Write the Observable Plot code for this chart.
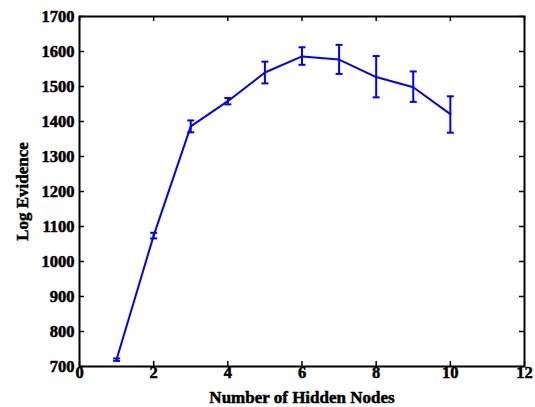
<!DOCTYPE html>
<html>
<head>
<meta charset="utf-8">
<script src="https://cdn.jsdelivr.net/npm/d3@7"></script>
<script src="https://cdn.jsdelivr.net/npm/@observablehq/plot@0.6"></script>
<style>
  html, body { margin: 0; padding: 0; background: #fff; }
  #chart svg { display: block; }
  #chart svg text { font-weight: bold; }
</style>
</head>
<body>
<div id="chart"></div>
<script>
const nodes    = [1, 2, 3, 4, 5, 6, 7, 8, 9, 10];
const evidence = [720, 1074, 1386, 1458, 1540, 1586, 1577, 1527, 1498, 1421];
const lower    = [716, 1066, 1369, 1449, 1509, 1562, 1536, 1469, 1456, 1368];
const upper    = [723, 1082, 1403, 1467, 1571, 1612, 1619, 1587, 1543, 1472];
const xTicks = [0, 2, 4, 6, 8, 10, 12];
const yTicks = [700, 800, 900, 1000, 1100, 1200, 1300, 1400, 1500, 1600, 1700];
const xLabel = "Number of Hidden Nodes";
const yLabel = "Log Evidence";

const data = nodes.map((n, i) => ({n, v: evidence[i], lo: lower[i], hi: upper[i]}));

const W = 535, H = 407, mL = 79, mR = 11, mT = 16, mB = 41;
const pw = W - mL - mR, ph = H - mT - mB;
const tk = 5;
const capSymbol = {
  draw(ctx, size) {
    const r = Math.sqrt(size / Math.PI);
    ctx.moveTo(-r, 0);
    ctx.lineTo(r, 0);
  }
};
const blue = "#0000ff";
const font = "'Liberation Serif', 'Times New Roman', serif";
const txt = {fontWeight: "bold", fill: "#000", stroke: "#000", strokeWidth: 0.5};

const chart = Plot.plot({
  width: W, height: H,
  marginLeft: mL, marginRight: mR, marginTop: mT, marginBottom: mB,
  style: {fontFamily: font, fontSize: "16px", fontWeight: "bold", color: "#000", background: "#fff"},
  x: {domain: [0, 12], axis: null},
  y: {domain: [700, 1700], axis: null},
  marks: [
    // inward ticks on all four sides
    Plot.tickX(xTicks, {x: d => d, stroke: "#000", strokeWidth: 1.5, insetTop: ph - tk}),
    Plot.tickX(xTicks, {x: d => d, stroke: "#000", strokeWidth: 1.5, insetBottom: ph - tk}),
    Plot.tickY(yTicks, {y: d => d, stroke: "#000", strokeWidth: 1.5, insetRight: pw - tk}),
    Plot.tickY(yTicks, {y: d => d, stroke: "#000", strokeWidth: 1.5, insetLeft: pw - tk}),
    // tick labels
    Plot.text(xTicks, {x: d => d, text: d => String(d), frameAnchor: "bottom", lineAnchor: "top", dy: 0,
                       fontSize: 16.5, ...txt}),
    Plot.text(yTicks, {y: d => d, text: d => String(d), frameAnchor: "left", textAnchor: "end", dx: -5,
                       fontSize: 16.5, ...txt}),
    Plot.text([xLabel], {text: d => d, frameAnchor: "bottom", lineAnchor: "middle", dy: 31,
                         fontSize: 17, ...txt}),
    Plot.text([yLabel], {text: d => d, frameAnchor: "left", textAnchor: "middle", lineAnchor: "middle",
                         dx: -57, rotate: -90, fontSize: 17, ...txt}),
    // data
    Plot.line(data, {x: "n", y: "v", stroke: blue, strokeWidth: 2}),
    Plot.ruleX(data, {x: "n", y1: "lo", y2: "hi", stroke: blue, strokeWidth: 2}),
    Plot.dot(data, {x: "n", y: "lo", symbol: capSymbol, r: 3.5, stroke: blue, strokeWidth: 2, fill: "none"}),
    Plot.dot(data, {x: "n", y: "hi", symbol: capSymbol, r: 3.5, stroke: blue, strokeWidth: 2, fill: "none"}),
    Plot.frame({stroke: "#000", strokeWidth: 2})
  ]
});
document.getElementById("chart").appendChild(chart);
</script>
</body>
</html>
